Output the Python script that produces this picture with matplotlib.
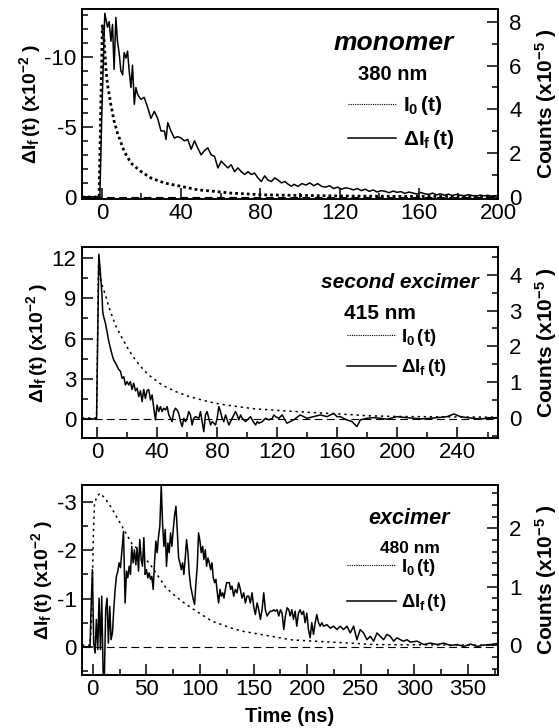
import numpy as np
import matplotlib
matplotlib.use("Agg")
import matplotlib.pyplot as plt
from matplotlib.ticker import MultipleLocator
from matplotlib.lines import Line2D

plt.rcParams["font.family"] = "Liberation Sans"
plt.rcParams["mathtext.fontset"] = "custom"
plt.rcParams["mathtext.rm"] = "Liberation Sans"
plt.rcParams["mathtext.bf"] = "Liberation Sans:bold"
plt.rcParams["mathtext.it"] = "Liberation Sans:italic"
plt.rcParams["axes.unicode_minus"] = False

# ---- monomer, 380 nm ----
mono_t = [-10, -1, 0, 1.5, 2.9, 3.7, 4.6, 5.4, 6.2, 7.1, 7.9, 8.8, 9.6, 10.5, 11.3, 12.2, 13.0,
          13.8, 14.7, 15.5, 16.4, 17.2, 18.1, 19.7, 21.4, 23.1, 24.8, 26.5, 28.2, 29.9, 31.6,
          32.4, 33.3, 34.9, 36.6, 38.3, 40.0, 41.7, 43.4, 45.1, 46.8, 48.4, 50.1, 51.8, 53.5,
          55.2, 56.9, 58.6, 60.3, 62.0, 63.6, 65.3, 67.0, 68.7, 70.4, 72.1, 73.8, 75.5, 77.1,
          78.8, 80.5, 82.2, 83.9, 85.6, 87.3, 89.0, 90.7, 92.4, 94.1, 95.7,
          97, 99, 101, 103, 105, 107, 109, 111, 113, 115, 117, 119, 121, 123, 125, 127, 129,
          131, 133, 135, 137, 139, 141, 143, 145, 147, 149, 151, 153, 155, 157, 159, 161, 163,
          165, 167, 169, 171, 173, 175, 177, 179, 181, 183, 185, 187, 189, 191, 193, 195, 197, 199]
mono_df = [0, 0, -6, -13.1, -12.1, -12.5, -11.1, -12.3, -9.1, -12.8, -11.1, -10.2, -9.0, -8.7,
           -10.3, -9.9, -10.4, -9.0, -7.8, -9.4, -6.6, -7.8, -7.3, -6.96, -7.1, -6.4, -5.6, -6.1,
           -5.6, -4.7, -4.7, -4.1, -5.3, -4.7, -4.2, -4.3, -4.2, -4.0, -4.1, -3.4, -4.0, -3.5,
           -3.0, -3.3, -3.5, -3.0, -2.9, -2.07, -2.55, -2.3, -2.07, -2.3, -1.8, -2.07, -1.8, -1.6,
           -1.8, -1.6, -1.7, -1.36, -1.1, -1.5, -1.2, -1.1, -1.36, -1.2, -1.0, -1.1, -0.9, -0.76,
           -0.9, -0.75, -0.95, -0.85, -1.0, -0.8, -0.95, -0.75, -0.7, -0.8, -0.6, -0.7, -0.55,
           -0.65, -0.6, -0.5, -0.6, -0.45, -0.55, -0.4, -0.5, -0.35, -0.45, -0.4, -0.3, -0.42,
           -0.33, -0.38, -0.25, -0.35, -0.28, -0.2, -0.32, -0.22, -0.18, -0.27, -0.15, -0.22,
           -0.12, -0.2, -0.1, -0.18, -0.12, -0.08, -0.16, -0.1, -0.05, -0.13, -0.08, -0.12,
           -0.04, -0.1]
mono_i0_t = [-10, -1.4, 0.3, 1.2, 2.0, 2.9, 4.6, 6.2, 7.9, 11.3, 14.7, 19.7, 24.8, 31.6, 40,
             48.4, 56.9, 65.3, 73.8, 82.2, 95.7, 120, 150, 200]
mono_i0 = [0, 0, 7.87, 7.1, 5.9, 5.13, 4.2, 3.46, 2.92, 2.09, 1.55, 1.17, 0.87, 0.64, 0.49,
           0.33, 0.26, 0.18, 0.14, 0.1, 0.08, 0.05, 0.03, 0.02]

# ---- second excimer, 415 nm ----
sec_t = [-10, -0.3, 1.2, 2.2, 3.3, 3.8, 4.4, 5.6, 6.7, 7.8, 8.9, 10, 11.1, 12.2, 14.4, 15.6,
         16.7, 17.8, 18.9, 20, 21.1, 22.2, 23.3, 24.4, 25.6, 26.7, 27.8, 28.9, 30, 31.1, 32.2,
         33.3, 34.4, 35.6, 36.7, 37.8, 38.9, 40, 41.1, 42.2, 43.3, 44.4, 45.6, 46.7, 47.8, 48.9,
         50, 51.1, 52.2, 53.3, 54.4, 55.6, 56.7, 57.8, 58.9, 60, 61.1, 62.2, 63.3, 64.4, 65.6,
         67.8, 68.9, 70, 71.1, 72.2, 73.3, 74.4, 75.6, 76.7, 78.9, 80, 81.1, 82.2, 83.3, 84.4,
         85.6, 87.8, 88.9, 90, 92.2, 93.3, 94.4, 95.6, 96.7, 98.9, 101.1, 102.2, 103.3, 105.6,
         106.7, 107.8, 110, 112.2, 114.4, 116.7, 117.8, 118.9, 121.1, 123.3, 126.4, 130.9,
         135.3, 139.8, 144.2, 148.7, 153.1, 157.6, 159.8, 162, 166.4, 169.8, 173.1, 175.3,
         179.8, 184, 188.7, 193, 199.8, 204, 210.9, 215, 222, 227, 233.1, 237.6, 242, 246,
         250.9, 255, 259.8, 263, 266.4]
sec_df = [0, 0, 12.3, 11.0, 9.25, 8.0, 7.64, 7.14, 6.5, 5.8, 5.3, 4.8, 4.4, 4.2, 3.7, 3.55,
          3.03, 3.15, 2.54, 2.79, 2.54, 2.79, 2.2, 2.67, 2.1, 2.29, 1.67, 2.1, 1.3, 2.2, 1.54,
          2.1, 2.2, 1.42, 1.79, 0.8, -0.07, 1.04, 0.55, 0.92, 0.55, 0.8, 0.67, 0.92, 0.3, 0.05,
          -0.2, 0.55, 0.8, 0.67, 0.42, -0.2, -0.57, 0.05, -0.2, 0.05, 0.55, 0.3, -0.45, 0.05,
          0.17, 0.05, 0.55, -0.2, -0.95, 0.3, 0.55, 0.05, -0.45, -0.2, -0.45, 0.05, 0.92, 0.55,
          0.05, -0.2, 0.3, -0.45, -0.2, 0.05, 0.55, 0.3, -0.07, 0.3, 0.05, -0.2, 0.05, 0.17,
          -0.07, -0.45, -0.2, -0.32, -0.2, 0.05, -0.07, 0.05, 0.3, 0.17, 0.05, 0.3, -0.32, -0.07,
          0.3, 0.05, 0.17, 0.3, 0.17, 0.42, 0.17, 0.17, -0.07, -0.2, -0.57, -0.07, 0.05, 0.1,
          0.05, -0.02, 0.17, 0.12, 0.05, 0.0, 0.05, 0.1, 0.17, 0.37, 0.17, 0.1, 0.05, 0.0, 0.05,
          0.08, 0.1]
sec_i0_t = [-10, -0.3, 1.0, 2.2, 3.3, 5.6, 7.8, 12.2, 16.7, 21.1, 25.6, 30, 34.4, 43.3, 52.2,
            61.1, 70, 78.9, 87.8, 96.7, 105.6, 114.4, 123.3, 144, 166, 180, 200, 267]
sec_i0 = [0, 0, 4.3, 3.9, 3.72, 3.44, 3.11, 2.60, 2.23, 1.90, 1.62, 1.39, 1.20, 0.92, 0.74,
          0.60, 0.50, 0.41, 0.35, 0.30, 0.25, 0.23, 0.2, 0.15, 0.1, 0.06, 0.04, 0.02]

# ---- excimer, 480 nm ----
exc_t = [-10, -2.5, -1.6, -0.3, 0.9, 2.2, 3.4, 4.7, 5.9, 7.2, 8.4, 9.7, 10.9, 12.1, 13.4,
         14.6, 15.9, 17.1, 18.4, 19.6, 20.9, 22.1, 23.4, 24.6, 25.9, 27.1, 28.7, 30.2, 31.5,
         32.7, 34.0, 35.2, 36.4, 37.7, 38.9, 40.2, 41.4, 42.7, 43.9, 45.2, 46.4, 47.7, 48.9,
         50.1, 51.4, 52.6, 53.9, 55.1, 56.4, 57.6, 58.9, 60.1, 61.4, 62.6, 63.9, 65.1, 66.4,
         67.6, 68.8, 70.1, 71.3, 72.6, 73.8, 75.1, 76.3, 77.6, 78.8, 80.1, 81.3, 82.6, 83.8,
         85.0, 86.3, 87.5, 88.8, 90.0, 91.3, 92.5, 93.8, 95.0, 96.3, 97.5, 98.7, 100.0, 101.2,
         102.5, 103.7, 105.0, 106.2, 107.5, 108.7, 110.0, 111.2, 112.4, 113.7, 114.9, 116.2,
         117.4, 118.7, 119.9, 121.2, 122.4, 123.7, 124.9, 126.2, 127.4, 128.6, 129.9, 131.5,
         133.0, 134.6, 136.1, 137.7, 139.2, 140.8, 142.4, 143.9, 145.5, 147.0, 148.6, 150.1,
         151.7, 153.3, 154.8, 156.4, 157.9, 159.5, 161.0, 162.6, 164.2, 165.7, 167.3, 168.8,
         170.4, 172.0, 173.5, 175.1, 176.6, 178.2, 179.7, 181.3, 182.9,
         184.1, 185.7, 187.2, 188.8, 190.3, 191.9, 193.4, 195.0, 196.6, 198.1, 199.7, 201.2,
         202.8, 204.3, 205.9, 207.5, 209.0, 210.6, 212.1, 213.7, 215.3, 218.4, 221.5, 224.6,
         227.7, 230.8, 233.9, 237.1, 240.2, 243.3, 246.4, 249.5, 252.6, 255.7, 258.9, 262.0,
         265.1, 268.2, 271.3, 274.4, 277.5, 280.7, 283.8, 286.9, 290.0, 293.1, 296.2, 302.5,
         308.7, 314.9, 321.2, 327.4, 333.6, 339.9, 346.1, 352.3, 358.5, 364.8, 371.0, 377.2]
exc_df = [0, 0, -0.77, -1.60, -0.08, 0.125, -0.57, 0.055, -1.01, 0.055, -1.05, 0.54, 0.57,
          -0.77, -1.01, -0.08, -0.84, -0.15, -0.29, -0.77, -1.19, -1.46, -1.57, -1.74, -1.64,
          -1.95, -2.39, -0.91, -1.57, -1.43, -1.67, -1.50, -2.08, -1.74, -2.01, -1.70, -2.05,
          -1.57, -2.22, -1.81, -1.67, -2.26, -1.50, -1.60, -1.43, -1.53, -1.40, -1.46, -1.19,
          -1.74, -2.19, -1.95, -2.29, -2.50, -3.33, -2.57, -2.08, -2.43, -1.67, -2.15, -1.95,
          -2.36, -2.08, -2.43, -2.71, -2.91, -2.43, -1.84, -1.74, -1.60, -1.74, -1.50, -1.84,
          -2.22, -1.95, -1.53, -1.26, -1.12, -0.98, -0.88, -1.33, -1.67, -2.36, -2.19, -1.95,
          -2.08, -1.81, -2.01, -1.67, -1.84, -1.74, -1.60, -1.74, -1.43, -1.33, -1.40, -1.12,
          -0.91, -1.19, -1.05, -1.12, -1.01, -1.19, -1.33, -1.33, -1.33, -1.19, -1.26, -1.05,
          -1.19, -1.12, -1.33, -1.19, -1.01, -1.12, -0.91, -1.05, -1.05, -0.91, -1.12, -0.84,
          -0.67, -0.91, -0.77, -0.57, -0.77, -1.12, -0.77, -0.64, -0.70, -0.74, -0.74, -0.77,
          -0.74, -0.77, -0.64, -0.77, -0.70, -0.36, -0.64, -0.81, -0.77,
          -0.64, -0.77, -0.57, -0.74, -0.43, -0.70, -0.77, -0.67, -0.74, -0.50, -0.70, -0.36,
          -0.19, -0.50, -0.26, -0.50, -0.67, -0.50, -0.43, -0.50, -0.43, -0.46, -0.39, -0.43,
          -0.36, -0.43, -0.36, -0.43, -0.29, -0.43, -0.15, -0.36, -0.29, -0.15, -0.22, -0.12,
          -0.29, -0.22, -0.15, -0.26, -0.22, -0.12, -0.19, -0.15, -0.12, -0.15, -0.10, -0.12,
          -0.05, -0.08, -0.05, -0.08, -0.03, -0.05, -0.01, -0.06, -0.01, -0.04, -0.05, -0.07]
exc_i0_t = [-10, -2.5, -0.9, 0.6, 1.6, 3.7, 6.9, 11.5, 17.8, 24, 30.2, 36.4, 42.7, 48.9, 55.1,
            61.4, 67.6, 73.8, 83.2, 92.5, 101.9, 111.2, 120.6, 129.9, 139.2, 148.6, 157.9,
            167.3, 176.6, 186, 215, 246, 262, 378]
exc_i0 = [0, 0, 0.49, 1.91, 2.40, 2.54, 2.60, 2.51, 2.34, 2.14, 1.94, 1.74, 1.63, 1.49, 1.34,
          1.17, 1.00, 0.89, 0.75, 0.63, 0.52, 0.41, 0.35, 0.29, 0.24, 0.21, 0.18, 0.15, 0.12,
          0.09, 0.06, 0.03, 0.01, 0.0]

left_label = r"$\mathbf{\Delta I_f\,(t)\ (x10^{-2}\ )}$"
right_label = r"$\mathbf{Counts\ (x10^{-5}\ )}$"
leg_labels = [r"$\mathbf{I_0\,(t)}$", r"$\mathbf{\Delta I_f\,(t)}$"]

fig = plt.figure(figsize=(5.59, 7.28), dpi=100)


def panel(rect, t, df, ti, i0, xlim, xmaj, xmin, yl, ylmaj, ylmin, yr, yrmaj, yrmin,
          name, wl, name_xy, wl_xy, leg_xy, i0_style, sizes, legspace):
    name_fs, wl_fs, leg_fs = sizes
    ax = fig.add_axes(rect)
    ax2 = ax.twinx()
    ax.axhline(0, color="black", lw=0.8, ls=(0, (7, 4)))
    ax.plot(t, df, color="black", lw=1.1)
    ax2.plot(ti, i0, color="black", **i0_style)
    ax.set_xlim(xlim)
    ax.set_ylim(yl)
    ax2.set_ylim(yr)
    ax.xaxis.set_major_locator(MultipleLocator(xmaj))
    ax.xaxis.set_minor_locator(MultipleLocator(xmin))
    ax.yaxis.set_major_locator(MultipleLocator(ylmaj))
    ax.yaxis.set_minor_locator(MultipleLocator(ylmin))
    ax2.yaxis.set_major_locator(MultipleLocator(yrmaj))
    ax2.yaxis.set_minor_locator(MultipleLocator(yrmin))
    ax.tick_params(which="both", direction="in", top=False, right=False, width=1.1,
                   labelsize=16)
    ax.tick_params(axis="y", which="major", length=8, pad=4)
    ax.tick_params(axis="x", which="major", length=8, pad=3)
    ax.tick_params(which="minor", length=4.5)
    ax2.tick_params(which="both", direction="in", width=1.1, labelsize=16, pad=8)
    ax2.tick_params(which="major", length=8)
    ax2.tick_params(which="minor", length=4.5)
    for a in (ax, ax2):
        for s in a.spines.values():
            s.set_linewidth(1.2)
    ax.set_ylabel(left_label, fontsize=14, labelpad=1)
    ax2.set_ylabel(right_label, fontsize=15, labelpad=8)
    ax.text(*name_xy, name, transform=ax.transAxes, ha="center", va="center",
            fontsize=name_fs, fontweight="bold", style="italic")
    ax.text(*wl_xy, wl, transform=ax.transAxes, ha="center", va="center",
            fontsize=wl_fs, fontweight="bold")
    handles = [Line2D([], [], color="black", lw=0.8, ls=(0, (1, 1))),
               Line2D([], [], color="black", lw=1.1)]
    hl = 35.0 / leg_fs
    ax2.legend(handles, leg_labels, loc="center left", bbox_to_anchor=leg_xy,
               frameon=False, fontsize=leg_fs, handlelength=hl, handletextpad=0.3,
               labelspacing=legspace, borderpad=0, borderaxespad=0)
    return ax


fine_dots = dict(lw=1.1, ls=(0, (1.5, 2.5)))

panel([0.1467, 0.7266, 0.7442, 0.261], mono_t, mono_df, mono_i0_t, mono_i0,
      (-10, 200), 40, 20, (0.15, -13.4), 5, 1, (-0.09, 8.58), 2, 1,
      "monomer", "380 nm", (0.748, 0.821), (0.748, 0.653), (0.639, 0.403),
      dict(lw=2.0, ls=(0, (1, 1.1))), (19, 14.5, 15), 0.53)

panel([0.1467, 0.3984, 0.7442, 0.2624], sec_t, sec_df, sec_i0_t, sec_i0,
      (-10, 267), 40, 20, (-1.42, 12.84), 3, 1.5, (-0.56, 4.78), 1, 0.5,
      "second excimer", "415 nm", (0.765, 0.812), (0.716, 0.654), (0.637, 0.448),
      fine_dots, (15, 15, 13.5), 0.5)

ax3 = panel([0.1467, 0.0728, 0.7442, 0.261], exc_t, exc_df, exc_i0_t, exc_i0,
            (-10, 378), 50, 25, (0.58, -3.35), 1, 0.5, (-0.51, 2.74), 1, 0.2,
            "excimer", "480 nm", (0.786, 0.826), (0.788, 0.668), (0.637, 0.474),
            fine_dots, (15.5, 12.5, 13.2), 0.8)
ax3.set_xlabel("Time (ns)", fontsize=14.5, fontweight="bold", labelpad=5)

fig.savefig("out.png", dpi=100)
